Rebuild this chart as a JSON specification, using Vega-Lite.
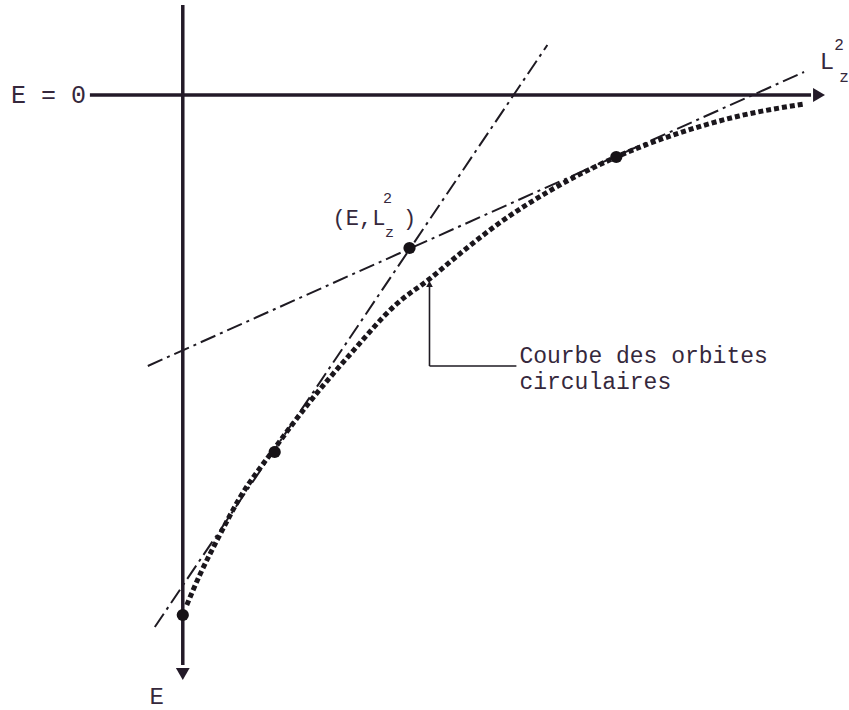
{
  "$schema": "https://vega.github.io/schema/vega-lite/v6.json",
  "width": 849,
  "height": 710,
  "padding": 0,
  "autosize": {"type": "fit", "contains": "padding"},
  "background": "white",
  "config": {"view": {"stroke": null}},
  "datasets": {
    "axes": [
      {"x": -93, "y": 0, "x2": 629, "y2": 0, "w": "h"},
      {"x": 0, "y": -90, "x2": 0, "y2": 570, "w": "v"}
    ],
    "heads": [
      {"x": 637, "y": 0, "shape": "triangle-right"},
      {"x": 0, "y": 579, "shape": "triangle-down"}
    ],
    "curve": [
      {"L2": 4, "E": 510},
      {"L2": 17, "E": 480},
      {"L2": 37, "E": 440},
      {"L2": 57, "E": 403},
      {"L2": 90, "E": 356},
      {"L2": 127, "E": 307},
      {"L2": 167, "E": 260},
      {"L2": 214, "E": 209},
      {"L2": 247, "E": 184},
      {"L2": 282, "E": 155},
      {"L2": 317, "E": 128},
      {"L2": 367, "E": 96},
      {"L2": 434, "E": 62},
      {"L2": 497, "E": 38},
      {"L2": 557, "E": 21},
      {"L2": 622, "E": 9}
    ],
    "tangents": [
      {"x": -28, "y": 532, "x2": 365, "y2": -50},
      {"x": -35, "y": 271, "x2": 622, "y2": -23}
    ],
    "dots": [
      {"L2": 0, "E": 520},
      {"L2": 92, "E": 357},
      {"L2": 227, "E": 153},
      {"L2": 434, "E": 62}
    ],
    "pointer": [
      {"x": 247, "y": 271, "x2": 247, "y2": 190},
      {"x": 247, "y": 271, "x2": 334, "y2": 271}
    ],
    "leftLabels": [
      {"x": -172, "y": 0, "t": "E = 0", "s": 25},
      {"x": 150, "y": 123, "t": "(E,L", "s": 22},
      {"x": 337, "y": 261, "t": "Courbe des orbites", "s": 23},
      {"x": 337, "y": 287, "t": "circulaires", "s": 23}
    ],
    "centerLabels": [
      {"x": 645, "y": -33, "t": "L", "s": 24},
      {"x": 657, "y": -50, "t": "2", "s": 16},
      {"x": 662, "y": -18, "t": "z", "s": 16},
      {"x": -26, "y": 602, "t": "E", "s": 24},
      {"x": 227, "y": 123, "t": ")", "s": 22},
      {"x": 205, "y": 103, "t": "2", "s": 15},
      {"x": 207, "y": 137, "t": "z", "s": 15}
    ]
  },
  "encoding": {
    "x": {"field": "x", "type": "quantitative", "scale": {"domain": [-183, 666], "nice": false, "zero": false}, "axis": null},
    "y": {"field": "y", "type": "quantitative", "scale": {"domain": [615, -95], "nice": false, "zero": false}, "axis": null}
  },
  "layer": [
    {
      "data": {"name": "tangents"},
      "mark": {"type": "rule", "color": "#1e1a22", "strokeWidth": 2, "strokeDash": [16, 5, 3, 5]},
      "encoding": {
        "x2": {"field": "x2"},
        "y2": {"field": "y2"}
      }
    },
    {
      "data": {"name": "axes"},
      "mark": {"type": "rule", "color": "#231a28", "strokeWidth": 3.5},
      "encoding": {
        "x2": {"field": "x2"},
        "y2": {"field": "y2"}
      }
    },
    {
      "data": {"name": "heads"},
      "mark": {"type": "point", "filled": true, "color": "#231a28", "size": 190, "opacity": 1},
      "encoding": {
        "shape": {"field": "shape", "type": "nominal", "scale": null, "legend": null}
      }
    },
    {
      "data": {"name": "curve"},
      "mark": {"type": "line", "color": "#1a161c", "strokeWidth": 5, "strokeDash": [5, 3], "interpolate": "monotone", "strokeCap": "butt"},
      "encoding": {
        "x": {"field": "L2", "type": "quantitative"},
        "y": {"field": "E", "type": "quantitative"},
        "order": {"field": "L2", "type": "quantitative"}
      }
    },
    {
      "data": {"name": "pointer"},
      "mark": {"type": "rule", "color": "#1e1a22", "strokeWidth": 1.6},
      "encoding": {
        "x2": {"field": "x2"},
        "y2": {"field": "y2"}
      }
    },
    {
      "data": {"values": [{"x": 247, "y": 189}]},
      "mark": {"type": "point", "filled": true, "color": "#1e1a22", "size": 45, "shape": "triangle-up", "opacity": 1},
      "encoding": {}
    },
    {
      "data": {"name": "dots"},
      "mark": {"type": "circle", "color": "#161216", "size": 150, "opacity": 1},
      "encoding": {
        "x": {"field": "L2", "type": "quantitative"},
        "y": {"field": "E", "type": "quantitative"}
      }
    },
    {
      "data": {"name": "leftLabels"},
      "mark": {"type": "text", "font": "Liberation Mono", "color": "#35283c", "baseline": "middle", "align": "left"},
      "encoding": {
        "text": {"field": "t"},
        "size": {"field": "s", "type": "quantitative", "scale": null, "legend": null}
      }
    },
    {
      "data": {"name": "centerLabels"},
      "mark": {"type": "text", "font": "Liberation Mono", "color": "#35283c", "baseline": "middle", "align": "center"},
      "encoding": {
        "text": {"field": "t"},
        "size": {"field": "s", "type": "quantitative", "scale": null, "legend": null}
      }
    }
  ]
}
